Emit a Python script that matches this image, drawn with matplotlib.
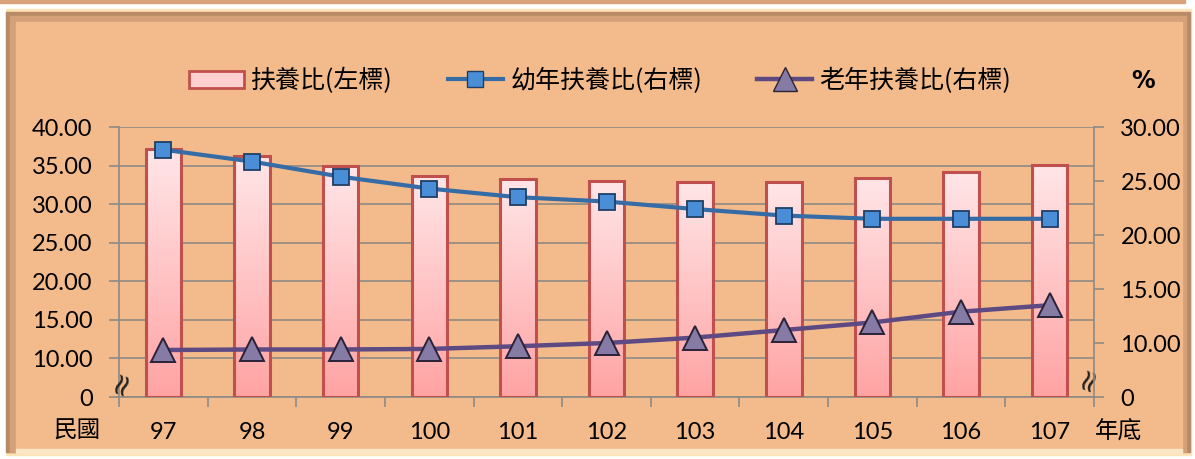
import numpy as np
import matplotlib
matplotlib.use('Agg')
import matplotlib.pyplot as plt
from matplotlib.patches import Rectangle
from matplotlib.lines import Line2D
from matplotlib.patches import Patch

# Data
years = ['97', '98', '99', '100', '101', '102', '103', '104', '105', '106', '107']
dependency = [37.2, 36.2, 34.9, 33.7, 33.3, 33.0, 32.85, 32.85, 33.4, 34.2, 35.1]
young = [27.9, 26.8, 25.4, 24.3, 23.5, 23.1, 22.4, 21.8, 21.5, 21.5, 21.5]
elderly = [9.35, 9.4, 9.4, 9.45, 9.7, 10.0, 10.5, 11.2, 11.9, 12.9, 13.5]

left_ticks = [5, 10, 15, 20, 25, 30, 35, 40]
left_labels = ['0', '10.00', '15.00', '20.00', '25.00', '30.00', '35.00', '40.00']
right_ticks = [5, 10, 15, 20, 25, 30]
right_labels = ['0', '10.00', '15.00', '20.00', '25.00', '30.00']

CJK = ['Noto Sans CJK TC', 'DejaVu Sans']
NUM = 'Lato'

W, H = 1195, 459
fig = plt.figure(figsize=(W / 100, H / 100), dpi=100, facecolor='white')


def px(x0, y0, w, h):
    # pixel box (top-left origin) -> figure fraction
    return (x0 / W, 1 - (y0 + h) / H, w / W, h / H)


def box(x0, y0, w, h, c):
    b = px(x0, y0, w, h)
    fig.patches.append(Rectangle(b[:2], b[2], b[3], transform=fig.transFigure,
                                 color=c, zorder=-10))


# panel background with a rough bevel
bg = '#F3BB8C'
box(0, 0, 1185, 3, '#D9A27A')
box(6, 9, 1185, 446, '#FCE3B8')
box(6, 12, 1184, 440, '#B98A66')
box(10, 16, 1176, 436, '#D4A077')
box(16, 22, 1166, 428, bg)
box(16, 449, 1166, 4, '#FCE6C4')

ax = fig.add_axes(px(119, 127, 975, 270))
ax.set_facecolor('none')
ax2 = ax.twinx()

x = np.arange(len(years))
bars = ax.bar(x, [d - 5 for d in dependency], bottom=5, width=0.4,
              facecolor='none', edgecolor='#C0504D', linewidth=2.2, zorder=3)

grad = np.linspace(0, 1, 256).reshape(-1, 1)
cmap = matplotlib.colors.LinearSegmentedColormap.from_list('pk', ['#FFA3A3', '#FFE6E8'])
for bar in bars:
    bx, by = bar.get_x(), bar.get_y()
    im = ax.imshow(grad, extent=[bx, bx + bar.get_width(), by, by + bar.get_height()],
                   origin='lower', aspect='auto', cmap=cmap, zorder=2)
    im.set_clip_path(bar)

ax.set_xlim(-0.5, len(years) - 0.5)
ax.set_ylim(5, 40)
ax.set_yticks(left_ticks)
ax.set_yticklabels(left_labels, fontfamily=NUM, fontsize=17, color='black')
ax.yaxis.grid(True, color='#8E8A86', linewidth=1.2, zorder=1)
ax.set_axisbelow(True)
ax.set_xticks(x)
ax.set_xticklabels(years, fontfamily=NUM, fontsize=17, color='black')
ax.set_xticks(np.arange(-0.5, len(years)), minor=True)
ax.tick_params(axis='x', which='major', length=0, pad=18)
ax.tick_params(axis='x', which='minor', length=7, color='#8E8A86', width=1.2)
ax.tick_params(axis='y', length=7, color='#8E8A86', width=1.2, pad=12)
for s in ['top', 'right']:
    ax.spines[s].set_visible(False)
ax.spines['left'].set_color('#8E8A86')
ax.spines['bottom'].set_color('#8E8A86')
ax.spines['left'].set_linewidth(1.2)
ax.spines['bottom'].set_linewidth(1.2)

ax2.plot(x, young, color='#366CA6', linewidth=3, marker='s', markersize=11,
         markerfacecolor='#4A8ED8', markeredgecolor='#1F3F66', markeredgewidth=1.3, zorder=5)
ax2.plot(x, elderly, color='#5E4A82', linewidth=3.2, marker='^', markersize=17,
         markerfacecolor='#857BA4', markeredgecolor='#2A2238', markeredgewidth=1.4, zorder=5)
ax2.set_ylim(5, 30)
ax2.set_yticks(right_ticks)
ax2.set_yticklabels(right_labels, fontfamily=NUM, fontsize=17, color='black')
ax2.tick_params(axis='y', length=7, color='#8E8A86', width=1.2, pad=12)
for s in ['top', 'left', 'bottom']:
    ax2.spines[s].set_visible(False)
ax2.spines['right'].set_color('#8E8A86')
ax2.spines['right'].set_linewidth(1.2)

# axis break marks
ax.text(0.003, 0.055, '≈', transform=ax.transAxes, rotation=70, ha='center', va='center',
        fontsize=22, fontfamily='DejaVu Sans', color='#222222')
ax.text(0.995, 0.07, '≈', transform=ax.transAxes, rotation=70, ha='center', va='center',
        fontsize=22, fontfamily='DejaVu Sans', color='#222222')

# axis end labels
fig.text(77 / W, 1 - 431 / H, '民國', fontfamily=CJK, fontsize=17, ha='center', va='center')
fig.text(1118 / W, 1 - 431 / H, '年底', fontfamily=CJK, fontsize=17, ha='center', va='center')
fig.text(1143 / W, 1 - 81 / H, '%', fontfamily='DejaVu Sans', fontsize=17, fontweight='bold',
         ha='center', va='center')

handles = [
    Patch(facecolor='#FFD0D2', edgecolor='#C0504D', linewidth=2),
    Line2D([], [], color='#366CA6', linewidth=3, marker='s', markersize=11,
           markerfacecolor='#4A8ED8', markeredgecolor='#1F3F66'),
    Line2D([], [], color='#5E4A82', linewidth=3.2, marker='^', markersize=17,
           markerfacecolor='#857BA4', markeredgecolor='#2A2238'),
]
labels = ['扶養比(左標)', '幼年扶養比(右標)', '老年扶養比(右標)']
fig.legend(handles, labels, loc='center left', bbox_to_anchor=(166 / W, 1 - 81 / H),
           ncol=3, frameon=False, prop={'family': CJK, 'size': 18},
           handlelength=2.2, handletextpad=0.3, columnspacing=2.2)

fig.savefig('out.png', dpi=100, facecolor='white')
